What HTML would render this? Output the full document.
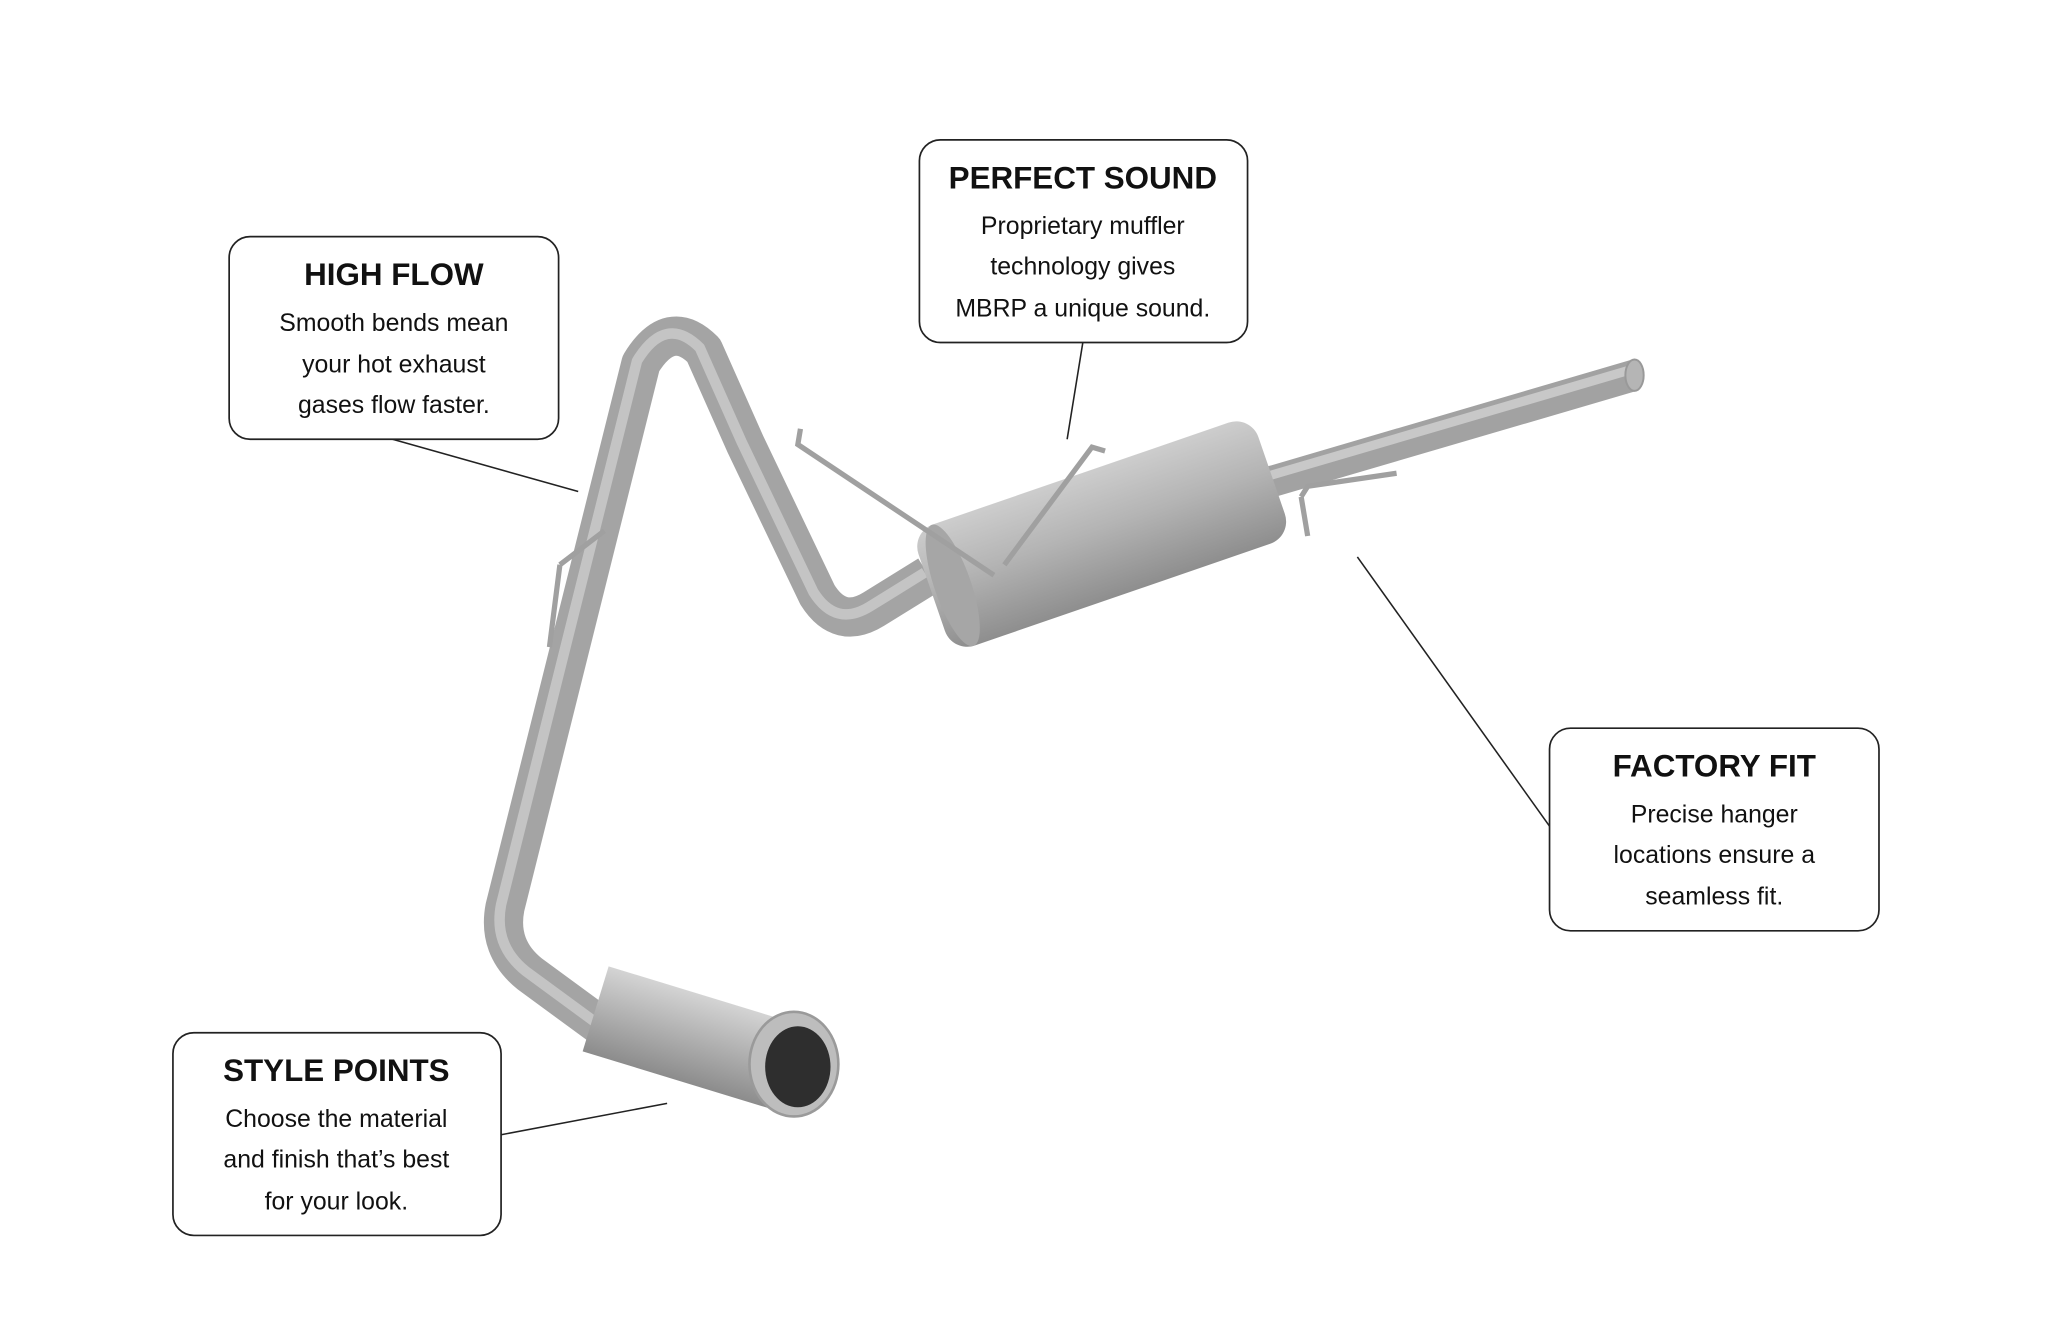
<!DOCTYPE html>
<html><head><meta charset="utf-8"><style>
html,body{margin:0;padding:0;background:#fff;width:2048px;height:1340px;overflow:hidden}
text{font-family:"Liberation Sans",sans-serif;fill:#111}
.t{font-weight:bold;font-size:24px}
.b{font-size:19px}
</style></head><body>
<svg width="2048" height="1340" viewBox="0 0 1566 1025" xmlns="http://www.w3.org/2000/svg">
<defs>
<linearGradient id="pg" x1="0" y1="0" x2="0" y2="1">
<stop offset="0" stop-color="#d4d4d4"/><stop offset="0.5" stop-color="#b0b0b0"/><stop offset="1" stop-color="#8c8c8c"/>
</linearGradient>
<linearGradient id="mg" x1="0" y1="0" x2="0" y2="1">
<stop offset="0" stop-color="#cdcdcd"/><stop offset="0.45" stop-color="#b4b4b4"/><stop offset="1" stop-color="#8e8e8e"/>
</linearGradient>
</defs>
<!-- exhaust pipes -->
<path d="M 480,800 L 405,745 Q 380,725 386,694 L 490,278 Q 512,242 538,268 L 570,340 L 625,455 Q 642,482 668,466 L 710,440" fill="none" stroke="#a4a4a4" stroke-width="30" stroke-linejoin="round"/>
<path d="M 480,800 L 405,745 Q 380,725 386,694 L 490,278 Q 512,242 538,268 L 570,340 L 625,455 Q 642,482 668,466 L 710,440" fill="none" stroke="#c4c4c4" stroke-width="8" stroke-linejoin="round" transform="translate(-3,-2)"/>
<path d="M 960,372 L 1250,287" stroke="#a2a2a2" stroke-width="24" fill="none"/>
<path d="M 960,367 L 1250,282" stroke="#c8c8c8" stroke-width="7" fill="none"/>
<ellipse cx="1250" cy="287" rx="7" ry="12" fill="#b5b5b5" stroke="#999" stroke-width="1.5"/>
<!-- muffler -->
<g transform="rotate(-19 835 410)">
<rect x="705" y="362" width="275" height="98" rx="18" fill="url(#mg)"/>
<ellipse cx="722" cy="411" rx="14" ry="49" fill="#a6a6a6"/>
</g>
<!-- hangers / clamps -->
<path d="M 612,328 L 610,340 L 760,440 M 845,345 L 835,342 L 768,432 M 995,380 L 1000,372 L 1068,362 M 995,380 L 1000,410" stroke="#a0a0a0" stroke-width="4" fill="none"/>
<path d="M 428,432 L 462,406 M 420,495 L 428,432" stroke="#a0a0a0" stroke-width="4" fill="none"/>
<!-- tip -->
<g transform="rotate(17 535 795)">
<rect x="452" y="762" width="150" height="68" fill="url(#pg)"/>
</g>
<ellipse cx="607" cy="814" rx="34" ry="40" fill="#bdbdbd" stroke="#9a9a9a" stroke-width="2"/>
<ellipse cx="610" cy="816" rx="25" ry="31" fill="#2e2e2e"/>
<!-- leader lines -->
<g stroke="#222" stroke-width="1.2">
<line x1="300" y1="336" x2="442" y2="376"/>
<line x1="828" y1="262" x2="816" y2="336"/>
<line x1="1185" y1="632" x2="1038" y2="426"/>
<line x1="383" y1="868" x2="510" y2="844"/>
</g>
<!-- boxes -->
<g fill="#fff" stroke="#222" stroke-width="1.3">
<rect x="175" y="181" width="252" height="155" rx="16"/>
<rect x="703" y="107" width="251" height="155" rx="16"/>
<rect x="1185" y="557" width="252" height="155" rx="16"/>
<rect x="132" y="790" width="251" height="155" rx="16"/>
</g>
<g text-anchor="middle">
<text class="t" x="301" y="218">HIGH FLOW</text>
<text class="b" x="301" y="253">Smooth bends mean</text>
<text class="b" x="301" y="285">your hot exhaust</text>
<text class="b" x="301" y="316">gases flow faster.</text>
<text class="t" x="828" y="144">PERFECT SOUND</text>
<text class="b" x="828" y="179">Proprietary muffler</text>
<text class="b" x="828" y="210">technology gives</text>
<text class="b" x="828" y="242">MBRP a unique sound.</text>
<text class="t" x="1311" y="594">FACTORY FIT</text>
<text class="b" x="1311" y="629">Precise hanger</text>
<text class="b" x="1311" y="660">locations ensure a</text>
<text class="b" x="1311" y="692">seamless fit.</text>
<text class="t" x="257" y="827">STYLE POINTS</text>
<text class="b" x="257" y="862">Choose the material</text>
<text class="b" x="257" y="893">and finish that’s best</text>
<text class="b" x="257" y="925">for your look.</text>
</g>
</svg>
</body></html>
